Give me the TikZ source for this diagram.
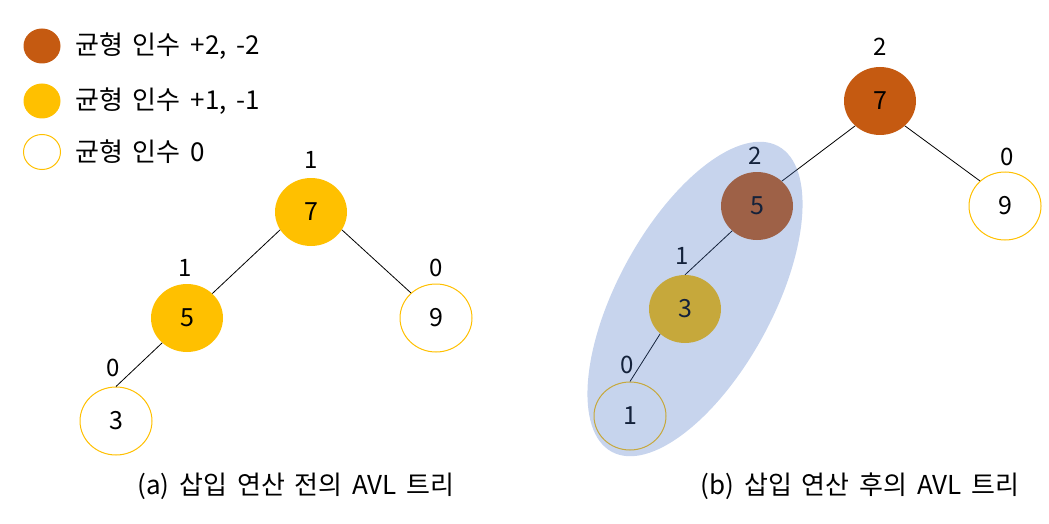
\documentclass[tikz,border=0pt]{standalone}
\usepackage{fontspec}
\setmainfont{Noto Sans CJK KR}
\usetikzlibrary{shapes.geometric}
\definecolor{bfred}{HTML}{C55A11}
\definecolor{bfyel}{HTML}{FFC000}
\definecolor{hlblue}{HTML}{4472C4}
\newcommand{\myspaced}{\fontsize{26}{30}\selectfont\spaceskip=0.38em plus 0.1em\relax}
\tikzset{
  tnode/.style={ellipse, minimum width=72pt, minimum height=68pt, inner sep=0pt, font=\fontsize{25}{28}\selectfont},
  bf2/.style={tnode, fill=bfred},
  bf1/.style={tnode, fill=bfyel},
  bf0/.style={tnode, draw=bfyel, line width=1pt, fill=white},
  lgd/.style={ellipse, minimum width=37pt, minimum height=35pt, inner sep=0pt},
  lbl/.style={font=\fontsize{24}{28}\selectfont, inner sep=0pt},
  captext/.style={font=\myspaced, inner sep=0pt},
  lgtext/.style={anchor=west, inner sep=0pt, font=\myspaced},
  edge/.style={draw=black, line width=0.8pt},
}
\begin{document}
\begin{tikzpicture}[x=1pt,y=1pt]
\useasboundingbox (0,0) rectangle (1049,-524);
% legend
\node[lgd, fill=bfred] (lg2) at (42,-46) {};
\node[lgd, fill=bfyel] (lg1) at (42,-101) {};
\node[lgd, draw=bfyel, line width=1pt] (lg0) at (42,-152) {};
\node[lgtext] (lt2) at (75,-46) {균형 인수 +2, -2};
\node[lgtext] (lt1) at (75,-101) {균형 인수 +1, -1};
\node[lgtext] (lt0) at (75,-152) {균형 인수 0};
% tree (a)
\node[bf1] (a7) at (311,-212) {7};
\node[bf1] (a5) at (187,-318) {5};
\node[bf0] (a9) at (436,-318) {9};
\node[bf0] (a3) at (116,-421) {3};
\node[lbl] (la7) at (311,-160) {1};
\node[lbl] (la5) at (185,-268) {1};
\node[lbl] (la9) at (436,-268) {0};
\node[lbl] (la3) at (113,-368) {0};
\draw[edge] (a7.210) -- (a5.44);
\draw[edge] (a7.-30) -- (a9.135);
\draw[edge] (a5.225) -- (a3.90);
\node[captext] (capa) at (296,-486) {(a) 삽입 연산 전의 AVL 트리};
% tree (b)
\node[bf2] (b7) at (880,-101) {7};
\node[bf0] (b9) at (1005,-206) {9};
\node[bf2] (b5) at (757,-206) {5};
\node[bf1] (b3) at (685,-309) {3};
\node[bf0] (b1) at (630,-416) {1};
\node[lbl] (lb7) at (880,-47) {2};
\node[lbl] (lb9) at (1007,-157) {0};
\node[lbl] (lb5) at (755,-156) {2};
\node[lbl] (lb3) at (682,-256) {1};
\node[lbl] (lb1) at (627,-365) {0};
\draw[edge] (b7.225) -- (b5.45);
\draw[edge] (b7.-45) -- (b9.135);
\draw[edge] (b5.225) -- (b3.90);
\draw[edge] (b3.225) -- (b1.90);
\node[ellipse, fill=hlblue, fill opacity=0.3, minimum width=348pt, minimum height=155pt, inner sep=0pt, rotate=61.4] (hl) at (695,-299) {};
\node[captext] (capb) at (860,-486) {(b) 삽입 연산 후의 AVL 트리};
\end{tikzpicture}
\end{document}
